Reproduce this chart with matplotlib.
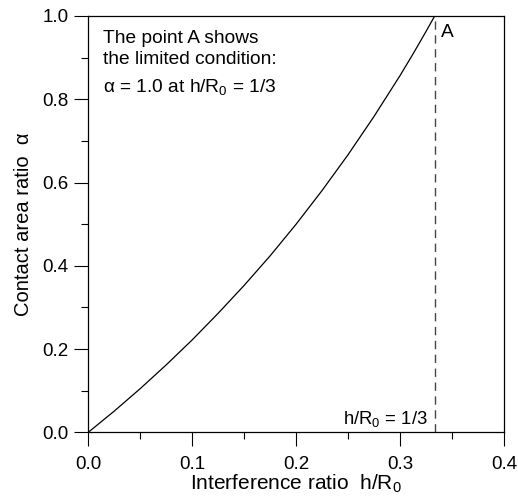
import matplotlib
matplotlib.use("Agg")
import matplotlib.pyplot as plt
from matplotlib.ticker import MultipleLocator

plt.rcParams['font.family'] = ['Liberation Sans', 'DejaVu Sans']
plt.rcParams['mathtext.fontset'] = 'custom'
plt.rcParams['mathtext.rm'] = 'Liberation Sans'
plt.rcParams['mathtext.it'] = 'Liberation Sans'

# data
interference_ratio = [0.0, 0.025, 0.05, 0.075, 0.1, 0.125, 0.15, 0.175, 0.2,
                      0.225, 0.25, 0.275, 0.3, 0.3125, 0.325, 0.3333]
contact_area_ratio = [0.0, 0.051, 0.105, 0.162, 0.222, 0.286, 0.353, 0.424, 0.500,
                      0.581, 0.667, 0.759, 0.857, 0.909, 0.963, 1.0]
limit_x = 1/3
x_ticks = [0.0, 0.1, 0.2, 0.3, 0.4]
y_ticks = [0.0, 0.2, 0.4, 0.6, 0.8, 1.0]

fig = plt.figure(figsize=(5.18, 4.99), dpi=100)
ax = fig.add_axes([88.3/518, 66.7/499, 415.7/518, 416.3/499])

ax.plot(interference_ratio, contact_area_ratio, color='black', lw=0.9)
ax.plot([limit_x, limit_x], [0, 1], color='#444444', lw=1.0, dashes=(6, 4))

ax.set_xlim(0, 0.4)
ax.set_ylim(0, 1.0)
ax.set_xticks(x_ticks)
ax.set_yticks(y_ticks)
ax.set_xticklabels([f"{v:.1f}" for v in x_ticks])
ax.set_yticklabels([f"{v:.1f}" for v in y_ticks])
ax.xaxis.set_minor_locator(MultipleLocator(0.05))
ax.yaxis.set_minor_locator(MultipleLocator(0.1))
ax.tick_params(which='major', direction='out', length=10, width=0.8, labelsize=13.5, pad=7,
               top=False, right=False)
ax.tick_params(axis='y', which='major', pad=4)
ax.tick_params(which='minor', direction='out', length=5, width=0.8, top=False, right=False)
for s in ax.spines.values():
    s.set_linewidth(0.9)

ax.set_xlabel(r"Interference ratio  h/R$_0$", fontsize=15, labelpad=0)
ax.set_ylabel("Contact area ratio  α", fontsize=14.5, labelpad=7)

fs = 13.8
tx = (102.7 - 88.3) / 415.7
ax.text(tx, (432.3 - 42.7) / 416.3, "The point A shows", transform=ax.transAxes,
        fontsize=fs, va='baseline', ha='left')
ax.text(tx, (432.3 - 64.3) / 416.3, "the limited condition:", transform=ax.transAxes,
        fontsize=fs, va='baseline', ha='left')
ax.text(tx, (432.3 - 91.7) / 416.3, r"α = 1.0 at h/R$_0$ = 1/3", transform=ax.transAxes,
        fontsize=fs, va='baseline', ha='left')

ax.text((441 - 88.3) / 415.7, (432.3 - 37.3) / 416.3, "A", transform=ax.transAxes,
        fontsize=fs, va='baseline', ha='left')
ax.text((428 - 88.3) / 415.7, (432.3 - 424) / 416.3, r"h/R$_0$ = 1/3", transform=ax.transAxes,
        fontsize=13.3, va='baseline', ha='right')

fig.savefig("out.png", dpi=100)
